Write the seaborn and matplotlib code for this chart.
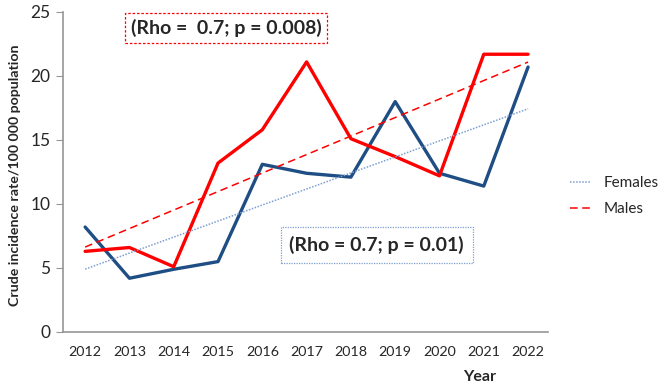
import matplotlib.pyplot as plt
import numpy as np
import pandas as pd
import seaborn as sns

YEARS = [2012, 2013, 2014, 2015, 2016, 2017, 2018, 2019, 2020, 2021, 2022]
FEMALES = [8.2, 4.2, 4.9, 5.5, 13.1, 12.4, 12.1, 18.0, 12.4, 11.4, 20.7]
MALES = [6.3, 6.6, 5.1, 13.2, 15.8, 21.1, 15.1, 13.7, 12.2, 21.7, 21.7]
MALE_NOTE = "(Rho =  0.7; p = 0.008)"
FEMALE_NOTE = "(Rho = 0.7; p = 0.01)"

BLUE = "#1f4e85"
RED = "#ff0000"
TREND_BLUE = "#7f9fd3"


def plot_incidence():
    sns.set_style("white")
    plt.rcParams["font.family"] = ["Lato", "DejaVu Sans"]
    df = pd.DataFrame({"Year": YEARS, "Females": FEMALES, "Males": MALES})

    fig = plt.figure(figsize=(6.66, 3.87), dpi=100)
    ax = fig.add_axes([63 / 666, 55 / 387, 485 / 666, 320 / 387])

    sns.lineplot(x="Year", y="Females", data=df, ax=ax, color=BLUE,
                 linewidth=2.4, legend=False)
    sns.lineplot(x="Year", y="Males", data=df, ax=ax, color=RED,
                 linewidth=2.4, legend=False)
    # linear trend lines
    sns.regplot(x="Year", y="Females", data=df, ax=ax, scatter=False, ci=None,
                color=TREND_BLUE, line_kws={"linestyle": (0, (1, 1)),
                                            "linewidth": 1.1},
                label="Females")
    sns.regplot(x="Year", y="Males", data=df, ax=ax, scatter=False, ci=None,
                color=RED, line_kws={"linestyle": (0, (5, 3)),
                                     "linewidth": 1.1},
                label="Males")

    ax.set_xlim(2011.5, 2022.45)
    ax.set_ylim(0, 25)
    ax.set_xticks(YEARS)
    ax.set_yticks([0, 5, 10, 15, 20, 25])
    ax.tick_params(axis="x", length=0, labelsize=10.3, pad=10)
    ax.tick_params(axis="y", length=5, color="#969696", labelsize=12.5,
                   left=True, pad=4)
    ax.spines["right"].set_visible(False)
    ax.spines["top"].set_visible(False)
    for side in ["left", "bottom"]:
        ax.spines[side].set_color("#969696")
        ax.spines[side].set_linewidth(1.2)

    ax.set_xlabel("")
    ax.set_ylabel("")
    fig.text(15 / 666, 212 / 387, "Crude incidence rate/100 000 population",
             rotation=90, ha="center", va="center", fontsize=10.2,
             fontweight="bold")
    fig.text(480 / 666, 10 / 387, "Year", ha="center", va="center",
             fontsize=11.5, fontweight="bold")

    ax.text(0.336, 0.95, MALE_NOTE, transform=ax.transAxes, ha="center",
            va="center", fontsize=14, fontweight="bold",
            bbox=dict(boxstyle="square,pad=0.3", facecolor="white",
                      edgecolor=RED, linestyle=(0, (2, 1.5)), linewidth=0.9))
    ax.text(0.647, 0.272, FEMALE_NOTE, transform=ax.transAxes, ha="center",
            va="center", fontsize=14, fontweight="bold",
            bbox=dict(boxstyle="square,pad=0.45", facecolor="white",
                      edgecolor=TREND_BLUE, linestyle=(0, (1, 1)),
                      linewidth=0.9))

    handles, labels = ax.get_legend_handles_labels()
    fig.legend(handles, labels, loc="center left",
               bbox_to_anchor=(556 / 666, 191 / 387), frameon=False,
               fontsize=11, handlelength=1.3, handletextpad=0.9,
               labelspacing=0.8)

    fig.savefig("out.png", dpi=100)
    plt.close(fig)


plot_incidence()
